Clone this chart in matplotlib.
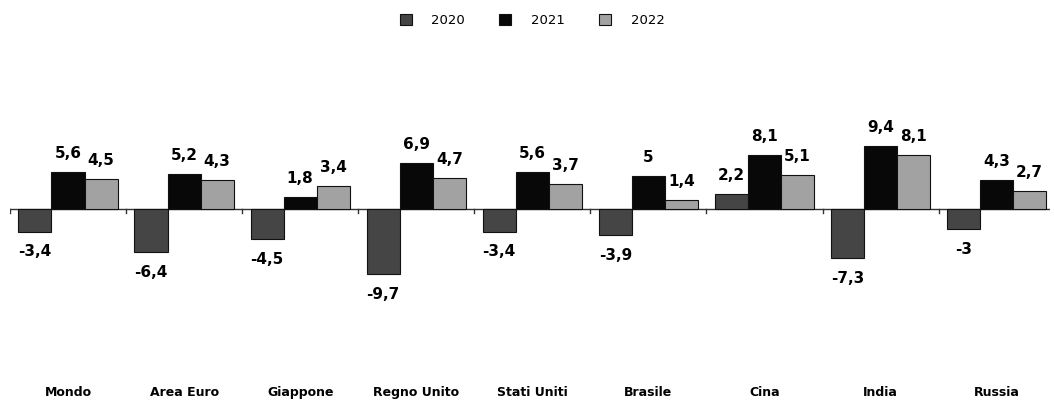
import numpy as np
import matplotlib.pyplot as plt

categories = ['Mondo', 'Area Euro', 'Giappone', 'Regno Unito', 'Stati Uniti',
              'Brasile', 'Cina', 'India', 'Russia']
years = ['2020', '2021', '2022']
v2020 = [-3.4, -6.4, -4.5, -9.7, -3.4, -3.9, 2.2, -7.3, -3.0]
v2021 = [5.6, 5.2, 1.8, 6.9, 5.6, 5.0, 8.1, 9.4, 4.3]
v2022 = [4.5, 4.3, 3.4, 4.7, 3.7, 1.4, 5.1, 8.1, 2.7]

colors = ['#454545', '#080808', '#a2a2a2']


def fmt(v):
    s = ('%.1f' % v).replace('.', ',')
    return s[:-2] if s.endswith(',0') else s


fig = plt.figure(figsize=(10.54, 4.05), dpi=100)
ax = fig.add_axes([10 / 1054, 25 / 405, 1040 / 1054, 335 / 405])

x = np.arange(len(categories))
w = 0.285
for i, (vals, c, lab) in enumerate(zip([v2020, v2021, v2022], colors, years)):
    bars = ax.bar(x + (i - 1) * w, vals, w, color=c, edgecolor='#111111',
                  linewidth=0.8, label=lab, zorder=2)
    for b, v in zip(bars, vals):
        cx = b.get_x() + b.get_width() / 2
        if v >= 0:
            ax.annotate(fmt(v), (cx, v), xytext=(0, 8), textcoords='offset points',
                        ha='center', va='bottom', fontsize=11, fontweight='bold')
        else:
            ax.annotate(fmt(v), (cx, v), xytext=(0, -9), textcoords='offset points',
                        ha='center', va='top', fontsize=11, fontweight='bold')

ax.axhline(0, color='#333333', linewidth=1, zorder=1)
# small ticks on the zero line between groups
for xb in np.arange(-0.5, len(categories), 1.0):
    ax.plot([xb, xb], [0, -0.6], color='#333333', linewidth=1, zorder=1)

ax.set_xlim(-0.5, 8.46)
ax.set_ylim(-25.5, 24.5)
ax.set_xticks(x)
ax.set_xticklabels(categories, fontsize=9, fontweight='bold')
ax.tick_params(axis='x', length=0, pad=4)
ax.set_yticks([])
for s in ax.spines.values():
    s.set_visible(False)

fig.legend(loc='upper center', bbox_to_anchor=(0.505, 0.995), ncol=3, frameon=False,
           fontsize=9.5, handlelength=0.9, handleheight=0.9, columnspacing=2.6,
           handletextpad=1.5)

fig.savefig('out.png', dpi=100)
